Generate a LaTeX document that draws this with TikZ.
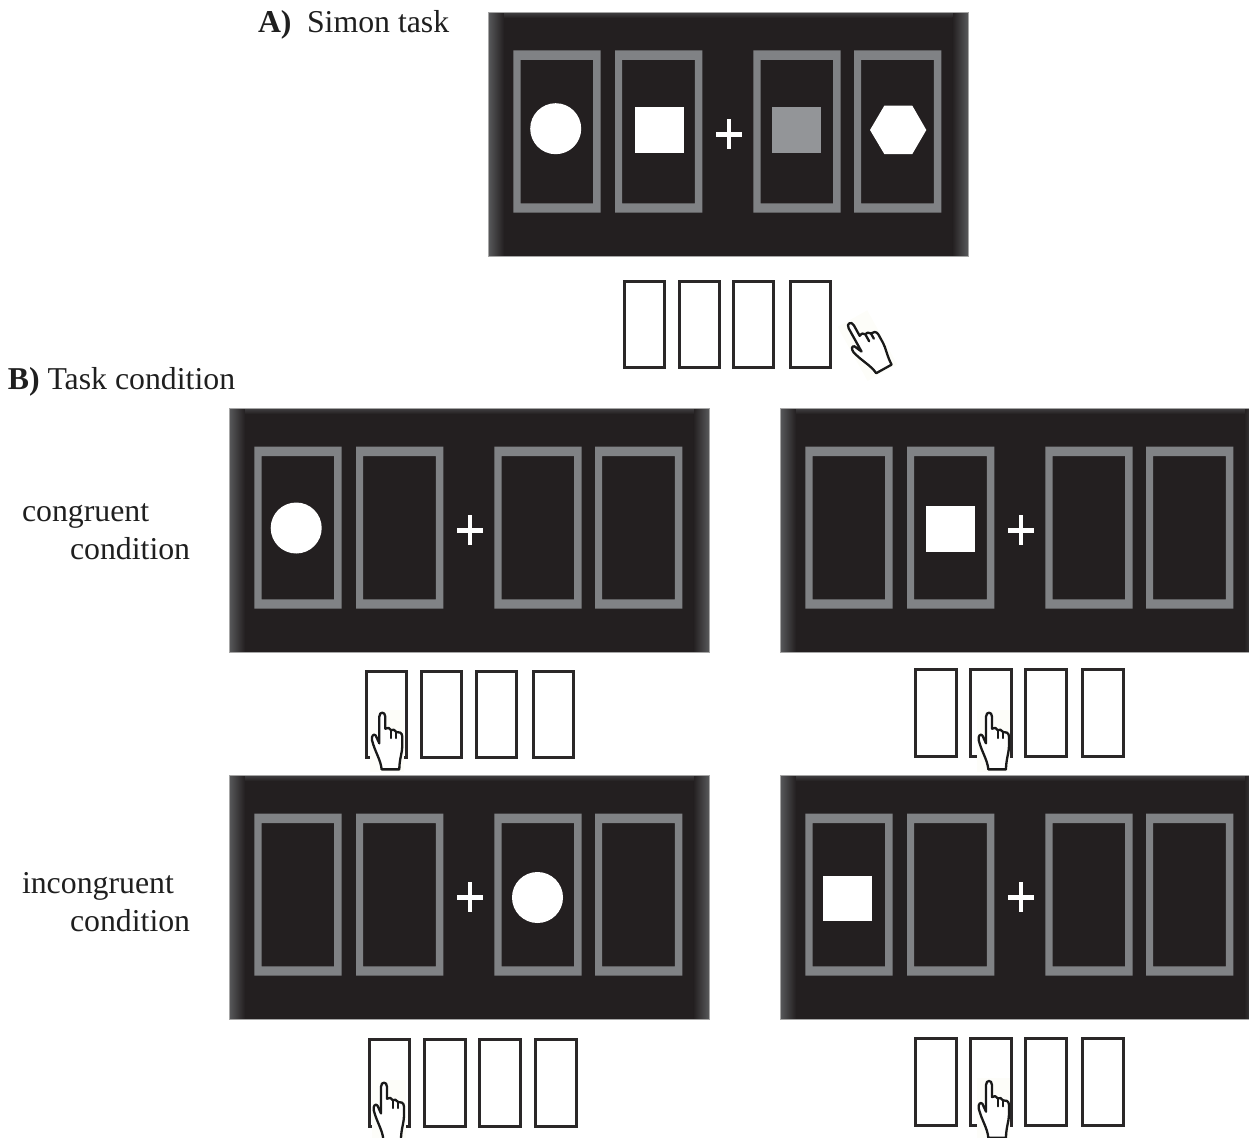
\documentclass[tikz,border=0pt]{standalone}
\usepackage{fontspec}
\setmainfont{Liberation Serif}
\definecolor{panelc}{HTML}{231F20}
\definecolor{framec}{HTML}{808285}
\definecolor{graysq}{HTML}{939598}
\definecolor{glowc}{HTML}{58595B}
\definecolor{halo}{HTML}{FDFDF9}
\definecolor{keyc}{HTML}{2A2728}
\tikzset{
  txtlabel/.style={anchor=base west,inner sep=0pt,outer sep=0pt,text=black!88,font=\fontsize{31.8}{36}\selectfont},
  boldlabel/.style={txtlabel,font=\fontsize{31.8}{36}\selectfont\bfseries},
  stim/.style={fill=white,draw=none},
  keybox/.style={draw=keyc,line width=3pt,fill=none},
  handline/.style={draw=black!90,line width=2.3pt,line join=round,line cap=round},
}
\newcommand{\oneframe}[1]{%
  \fill[framec,even odd rule] (#1,50.5) rectangle (#1+87.4,212.7) (#1+7.2,60) rectangle (#1+79.8,203.3);
}
\newcommand{\panelat}[2]{%
  \begin{scope}[shift={(#1,#2)}]
    \fill[panelc] (488.3,12.5) rectangle (968,256.5);
    \shade[left color=glowc,right color=panelc] (488.3,12.5) rectangle (504,256.5);
    \shade[left color=panelc,right color=glowc] (952.3,12.5) rectangle (968,256.5);
    \shade[top color=glowc!55!panelc,bottom color=panelc] (504,12.5) rectangle (952.3,18);
    \draw[gray!70,line width=.5pt] (488.3,12.5) rectangle (968,256.5);
    \oneframe{513.3}\oneframe{615}\oneframe{753.3}\oneframe{854}
    \fill[white] (715.7,132) rectangle (742.3,136.6);
    \fill[white] (726.7,119.3) rectangle (731.3,149.3);
  \end{scope}
}
\newcommand{\keysat}[6]{% x1 x2 x3 x4 ytop ybot
  \foreach \kx in {#1,#2,#3,#4} {\draw[keybox] (\kx+1.5,#5+1.5) rectangle (\kx+41.7,#6-1.5);}
}
\newcommand{\handat}[4]{% x y rotation halo-right
  \begin{scope}[shift={(#1,#2)},rotate=#3,x=0.3333pt,y=0.3333pt]
    \fill[halo] (-36,8) rectangle (#4,-178);
    \fill[white,draw=black!90,line width=2.3pt,line join=round]
      (-2,-170) .. controls (-5,-140) and (-22,-118) .. (-31,-82)
      .. controls (-33,-70) and (-26,-62) .. (-20,-68)
      -- (-9,-92) -- (-9,-12)
      .. controls (-9,-3) and (-4,0) .. (0,0)
      .. controls (4,0) and (9,-3) .. (9,-12)
      -- (9,-48)
      .. controls (14,-44) and (24,-44) .. (26,-52)
      .. controls (30,-50) and (40,-50) .. (42,-58)
      .. controls (50,-56) and (60,-60) .. (60,-72)
      -- (60,-100) .. controls (60,-120) and (51,-140) .. (51,-170) -- cycle;
    \draw[handline] (26,-52) -- (26,-76);
    \draw[handline] (42,-58) -- (42,-76);
  \end{scope}
}
\begin{document}
\begin{tikzpicture}[x=1pt,y=-1pt]
\useasboundingbox (0,0) rectangle (1249,1137);
\clip (0,0) rectangle (1249,1137);
% Panel A
\panelat{0}{0}
\fill[stim] (555.7,128.7) circle[radius=25.5];
\fill[stim] (635.3,107.3) rectangle (684.3,152.7);
\fill[graysq] (772.3,107.3) rectangle (821,152.7);
\fill[stim] (870,130) -- (884.3,105.7) -- (912.3,105.7) -- (926.3,130) -- (912.3,154) -- (884.3,154) -- cycle;
\keysat{622.7}{677.7}{732}{789}{280}{369}
\handat{849.3}{323.3}{29}{66}
% Panel B1
\panelat{-259}{396}
\fill[stim] (296.2,528) circle[radius=25.5];
\keysat{365}{420}{475}{531.7}{670}{759.3}
\handat{382.3}{712.7}{0}{66}
% Panel B2
\panelat{292}{396}
\fill[stim] (926,506) rectangle (975,552);
\keysat{914.3}{969.3}{1024.3}{1081.3}{668.3}{758.3}
\handat{989}{712.7}{0}{62}
% Panel B3
\panelat{-259}{763}
\fill[stim] (537.5,897.5) circle[radius=25.5];
\keysat{367.7}{423.3}{478.3}{534.3}{1038.3}{1127.7}
\handat{384}{1082.7}{0}{66}
% Panel B4
\panelat{292}{763}
\fill[stim] (823,876) rectangle (872,921);
\keysat{914.3}{969.3}{1024.3}{1081.3}{1037.3}{1126.7}
\handat{989}{1081}{0}{62}
% Labels
\node[boldlabel] (lA) at (258,33) {A)};
\node[txtlabel] (tA) at (307,33) {Simon task};
\node[boldlabel] (lB) at (8,389) {B)};
\node[txtlabel] (tB) at (47.5,389) {Task condition};
\node[txtlabel] (c1) at (22,521) {congruent};
\node[txtlabel] (c2) at (70,559) {condition};
\node[txtlabel] (i1) at (22,893) {incongruent};
\node[txtlabel] (i2) at (70,931) {condition};
\end{tikzpicture}
\end{document}
